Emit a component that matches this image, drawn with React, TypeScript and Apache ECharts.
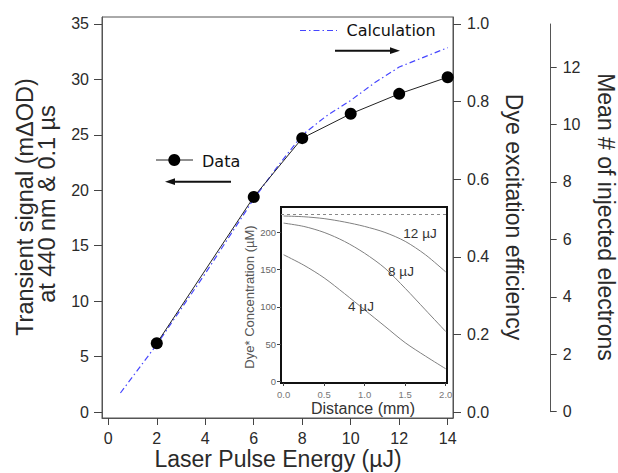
import React, { useEffect, useRef } from "react";
import * as echarts from "echarts";

// ---- data ----
const energyTicks = [0, 2, 4, 6, 8, 10, 12, 14];
const signalTicks = [0, 5, 10, 15, 20, 25, 30, 35];
const efficiencyTicks = [0, 0.2, 0.4, 0.6, 0.8, 1.0];
const electronTicks = [0, 2, 4, 6, 8, 10, 12];

const dataEnergy = [2, 6, 8, 10, 12, 14];
const dataSignal = [6.2, 19.4, 24.7, 26.9, 28.7, 30.2];

const calcEnergy = [0.5, 2, 4, 6, 7, 8, 9, 10, 11, 12, 13, 14];
const calcEfficiency = [0.049, 0.174, 0.357, 0.549, 0.634, 0.714, 0.763, 0.803, 0.849, 0.889, 0.914, 0.939];

const distanceTicks = [0, 0.5, 1.0, 1.5, 2.0];
const concTicks = [0, 50, 100, 150, 200];
const distance = [0, 0.25, 0.5, 0.75, 1.0, 1.25, 1.5, 1.75, 2.0];
const conc12 = [222, 221, 218.5, 214, 208, 200, 188, 170, 147];
const conc8 = [212.5, 208, 200, 188, 172, 152, 125, 96, 67];
const conc4 = [170, 156, 139, 118, 96, 74, 52, 34, 17];
const saturationConc = 225;

const FONT = "'Liberation Sans', Arial, Helvetica, sans-serif";
const LEG_FONT = "'DejaVu Sans', Verdana, sans-serif";
const TXT = "#2a2a2a";
const AX = "#555";
const BLUE = "#4646ff";

const zip = (xs: number[], ys: number[]) => xs.map((x, i) => [x, ys[i]]);

export default function App() {
  const ref = useRef<HTMLDivElement>(null);
  useEffect(() => {
    document.body.style.margin = "0";
    if (!ref.current) return;
    const chart = echarts.init(ref.current, undefined, { renderer: "svg" });

    const mainLabel = { fontSize: 16, color: TXT, fontFamily: FONT };
    const title = (text: string, x: number, y: number, rotation: number, size = 23) => ({
      type: "text", x, y, rotation,
      style: { text, fontSize: size, fontFamily: FONT, fill: TXT, textAlign: "center", textVerticalAlign: "middle" },
    });

    chart.setOption({
      animation: false,
      backgroundColor: "#fff",
      grid: [
        { left: 102, top: 17, width: 351, height: 401, show: true, borderColor: AX, borderWidth: 1, backgroundColor: "transparent" },
        { left: 281, top: 207, width: 166, height: 176, show: true, borderColor: "#111", borderWidth: 2, backgroundColor: "#fff", z: 3 },
        { left: 549.7, top: 24, width: 1, height: 387.7, show: false },
      ],
      xAxis: [
        {
          gridIndex: 0, type: "value", min: -0.26, max: 14.22,
          axisLine: { show: true, onZero: false, lineStyle: { color: AX, width: 1 } },
          axisTick: { show: true, customValues: energyTicks, length: 7, lineStyle: { color: "#444" } },
          axisLabel: { customValues: energyTicks, margin: 12, ...mainLabel },
          splitLine: { show: false },
        },
        {
          gridIndex: 1, type: "value", min: -0.032, max: 2.016, z: 4,
          axisLine: { show: true, onZero: false, lineStyle: { color: "#111", width: 2 } },
          axisTick: { show: true, customValues: distanceTicks, length: 3, lineStyle: { color: "#444" } },
          axisLabel: { customValues: distanceTicks, margin: 6, fontSize: 9.5, color: "#777", fontFamily: FONT, formatter: (v: number) => v.toFixed(1) },
          splitLine: { show: false },
        },
        { gridIndex: 2, type: "value", min: 0, max: 1, show: false },
      ],
      yAxis: [
        {
          gridIndex: 0, type: "value", position: "left", min: -0.54, max: 35.63,
          axisLine: { show: true, onZero: false, lineStyle: { color: AX, width: 1 } },
          axisTick: { show: true, customValues: signalTicks, length: 8, lineStyle: { color: "#444" } },
          axisLabel: { customValues: signalTicks, margin: 13, ...mainLabel },
          splitLine: { show: false },
        },
        {
          gridIndex: 0, type: "value", position: "right", min: -0.0154, max: 1.018,
          axisLine: { show: true, onZero: false, lineStyle: { color: AX, width: 1 } },
          axisTick: { show: true, customValues: efficiencyTicks, length: 8, lineStyle: { color: "#444" } },
          axisLabel: { customValues: efficiencyTicks, margin: 14, ...mainLabel, formatter: (v: number) => v.toFixed(1) },
          splitLine: { show: false },
        },
        {
          gridIndex: 1, type: "value", min: -2.1, max: 234.1, z: 4,
          axisLine: { show: true, onZero: false, lineStyle: { color: "#111", width: 2 } },
          axisTick: { show: true, customValues: concTicks, length: 4, lineStyle: { color: "#444" } },
          axisLabel: { customValues: concTicks, margin: 5, fontSize: 9.5, color: "#666", fontFamily: FONT },
          splitLine: { show: false },
        },
        {
          gridIndex: 2, type: "value", position: "right", min: 0, max: 13.5,
          axisLine: { show: true, onZero: false, lineStyle: { color: AX, width: 1 } },
          axisTick: { show: true, customValues: electronTicks, length: 6, lineStyle: { color: "#444" } },
          axisLabel: { customValues: electronTicks, margin: 12, ...mainLabel },
          splitLine: { show: false },
        },
      ],
      series: [
        {
          type: "line", name: "Calculation", xAxisIndex: 0, yAxisIndex: 1,
          data: zip(calcEnergy, calcEfficiency), showSymbol: false, z: 2,
          lineStyle: { color: BLUE, width: 1.2, type: [6, 3, 1.5, 3] },
        },
        {
          type: "line", name: "Data", xAxisIndex: 0, yAxisIndex: 0,
          data: zip(dataEnergy, dataSignal), symbol: "circle", symbolSize: 12, z: 3,
          itemStyle: { color: "#000" }, lineStyle: { color: "#222", width: 1 },
        },
        {
          type: "line", name: "12 µJ", xAxisIndex: 1, yAxisIndex: 2, z: 5,
          data: zip(distance, conc12), smooth: 0.3, showSymbol: false,
          lineStyle: { color: "#808080", width: 1 },
          markLine: {
            silent: true, symbol: ["none", "none"], label: { show: false },
            lineStyle: { color: "#888", type: [3, 3], width: 1 },
            data: [{ yAxis: saturationConc }],
          },
        },
        {
          type: "line", name: "8 µJ", xAxisIndex: 1, yAxisIndex: 2, z: 5,
          data: zip(distance, conc8), smooth: 0.3, showSymbol: false,
          lineStyle: { color: "#808080", width: 1 },
        },
        {
          type: "line", name: "4 µJ", xAxisIndex: 1, yAxisIndex: 2, z: 5,
          data: zip(distance, conc4), smooth: 0.3, showSymbol: false,
          lineStyle: { color: "#808080", width: 1 },
        },
      ],
      graphic: [
        // axis titles
        title("Laser Pulse Energy (µJ)", 278, 459, 0),
        title("Transient signal (mΔOD)", 25, 207, Math.PI / 2, 23.5),
        title("at 440 nm & 0.1 µs", 47, 204, Math.PI / 2, 23.5),
        title("Dye excitation efficiency", 514, 217, -Math.PI / 2),
        title("Mean # of injected electrons", 606, 217, -Math.PI / 2),
        // inset titles & labels
        { type: "text", x: 363, y: 408, z: 10, style: { text: "Distance (mm)", fontSize: 16, fontFamily: FONT, fill: "#333", textAlign: "center", textVerticalAlign: "middle" } },
        { type: "text", x: 249, y: 297, z: 10, rotation: Math.PI / 2, style: { text: "Dye* Concentration (µM)", fontSize: 13, fontFamily: FONT, fill: "#555", textAlign: "center", textVerticalAlign: "middle" } },
        { type: "text", x: 420, y: 233, z: 10, style: { text: "12 µJ", fontSize: 13.5, fontFamily: FONT, fill: "#333", textAlign: "center", textVerticalAlign: "middle" } },
        { type: "text", x: 401, y: 271, z: 10, style: { text: "8 µJ", fontSize: 13.5, fontFamily: FONT, fill: "#333", textAlign: "center", textVerticalAlign: "middle" } },
        { type: "text", x: 361, y: 306, z: 10, style: { text: "4 µJ", fontSize: 13.5, fontFamily: FONT, fill: "#333", textAlign: "center", textVerticalAlign: "middle" } },
        // Data legend
        { type: "line", shape: { x1: 156, y1: 160, x2: 193, y2: 160 }, style: { stroke: "#222", lineWidth: 1 } },
        { type: "circle", shape: { cx: 174.3, cy: 160, r: 6 }, style: { fill: "#000" } },
        { type: "text", x: 202, y: 161, style: { text: "Data", fontSize: 16, fontFamily: LEG_FONT, fill: "#111", textAlign: "left", textVerticalAlign: "middle" } },
        { type: "line", shape: { x1: 231, y1: 181.7, x2: 172, y2: 181.7 }, style: { stroke: "#111", lineWidth: 2 } },
        { type: "polygon", shape: { points: [[165, 181.7], [175, 178.3], [175, 185.1]] }, style: { fill: "#111" } },
        // Calculation legend
        { type: "line", shape: { x1: 300, y1: 30.5, x2: 337, y2: 30.5 }, style: { stroke: BLUE, lineWidth: 1.2, lineDash: [6, 3, 1.5, 3] } },
        { type: "text", x: 346.5, y: 30.5, style: { text: "Calculation", fontSize: 16, fontFamily: LEG_FONT, fill: "#111", textAlign: "left", textVerticalAlign: "middle" } },
        { type: "line", shape: { x1: 335, y1: 50.7, x2: 392, y2: 50.7 }, style: { stroke: "#111", lineWidth: 2 } },
        { type: "polygon", shape: { points: [[400, 50.7], [390, 47.3], [390, 54.1]] }, style: { fill: "#111" } },
      ],
    });

    return () => chart.dispose();
  }, []);

  return <div ref={ref} style={{ width: 618, height: 473 }} />;
}
